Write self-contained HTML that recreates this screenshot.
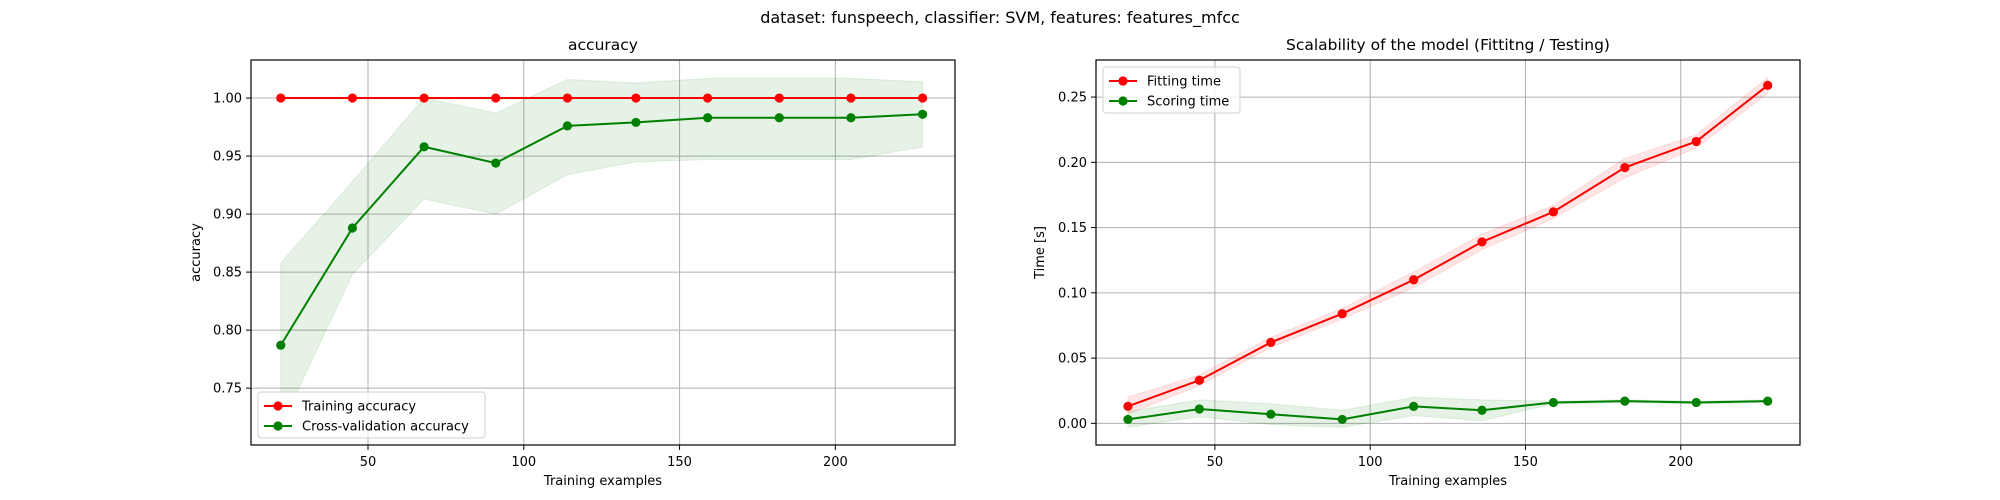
<!DOCTYPE html>
<html><head><meta charset="utf-8"><style>
body{margin:0;background:#fff}
svg{font-family:"DejaVu Sans","Liberation Sans",sans-serif;display:block}
</style></head><body>
<svg id="fig" width="2000" height="500" xmlns="http://www.w3.org/2000/svg">
<text x="1000" y="23" text-anchor="middle" font-size="16">dataset: funspeech, classifier: SVM, features: features_mfcc</text>
</svg>
<script>
const trainSizes=[22,45,68,91,114,136,159,182,205,228];
const trainAcc=[1,1,1,1,1,1,1,1,1,1];
const cvAcc=[0.787,0.888,0.958,0.944,0.976,0.979,0.983,0.983,0.983,0.986];
const cvUpper=[0.858,0.928,1.0,0.987,1.016,1.013,1.017,1.017,1.017,1.014];
const cvLower=[0.717,0.848,0.913,0.900,0.934,0.945,0.947,0.947,0.947,0.958];
const fitTime=[0.013,0.033,0.062,0.084,0.110,0.139,0.162,0.196,0.216,0.259];
const fitUpper=[0.020,0.037,0.066,0.088,0.116,0.145,0.167,0.203,0.221,0.265];
const fitLower=[0.007,0.029,0.058,0.080,0.104,0.133,0.157,0.188,0.211,0.253];
const scoreTime=[0.003,0.011,0.007,0.003,0.013,0.010,0.016,0.017,0.016,0.017];
const scoreUpper=[0.009,0.018,0.015,0.010,0.020,0.018,0.017,0.018,0.017,0.018];
const scoreLower=[-0.003,0.005,-0.001,-0.003,0.006,0.002,0.015,0.016,0.015,0.016];
const xTicks=[50,100,150,200];
const accTicks=[0.75,0.80,0.85,0.90,0.95,1.00];
const timeTicks=[0.00,0.05,0.10,0.15,0.20,0.25];

const NS="http://www.w3.org/2000/svg";
const svg=document.getElementById('fig');
function el(tag,attrs,parent,text){const e=document.createElementNS(NS,tag);for(const k in attrs)e.setAttribute(k,attrs[k]);if(text!==undefined)e.textContent=text;(parent||svg).appendChild(e);return e;}

function panel(cfg){
  const {L,R,T,B,xmin,xmax,ymin,ymax}=cfg;
  const sx=v=>L+(v-xmin)/(xmax-xmin)*(R-L);
  const sy=v=>B-(v-ymin)/(ymax-ymin)*(B-T);
  const g=el('g',{});
  
  
  xTicks.forEach(t=>{
    const l=el('line',{x1:sx(t),x2:sx(t),y1:T,y2:B,stroke:'#b0b0b0','stroke-width':1},g);
    
    el('line',{x1:sx(t),x2:sx(t),y1:B,y2:B+5,stroke:'#000'},g);
    const tx=el('text',{x:sx(t),y:B+21,'text-anchor':'middle','font-size':13},g,String(t));
    
  });
  cfg.yTicks.forEach(t=>{
    const l=el('line',{x1:L,x2:R,y1:sy(t),y2:sy(t),stroke:'#b0b0b0','stroke-width':1},g);
    
    el('line',{x1:L-5,x2:L,y1:sy(t),y2:sy(t),stroke:'#000'},g);
    const tx=el('text',{x:L-9,y:sy(t)+4.5,'text-anchor':'end','font-size':13},g,t.toFixed(2));
    
  });
  cfg.series.forEach(s=>{
    const pts=trainSizes.map((x,i)=>sx(x)+','+sy(s.up[i])).concat(trainSizes.map((x,i)=>sx(x)+','+sy(s.lo[i])).reverse());
    const b=el('polygon',{points:pts.join(' '),fill:s.c,'fill-opacity':0.1,stroke:s.c,'stroke-opacity':0.1},g);
    
  });
  cfg.series.forEach(s=>{
    const p=el('polyline',{points:trainSizes.map((x,i)=>sx(x)+','+sy(s.v[i])).join(' '),fill:'none',stroke:s.c,'stroke-width':2},g);
    
    trainSizes.forEach((x,i)=>{
      const c=el('circle',{cx:sx(x),cy:sy(s.v[i]),r:4.6,fill:s.c},g);
      
    });
  });
  el('rect',{x:L,y:T,width:R-L,height:B-T,fill:'none',stroke:'#000','stroke-width':1.2},g);
  const tt=el('text',{x:(L+R)/2,y:T-10,'text-anchor':'middle','font-size':15.5},g,cfg.title);
  
  const xl=el('text',{x:(L+R)/2,y:B+40,'text-anchor':'middle','font-size':13},g,'Training examples');
  
  const yl=el('text',{x:cfg.ylx,y:(T+B)/2,'text-anchor':'middle','font-size':13,transform:`rotate(-90 ${cfg.ylx} ${(T+B)/2})`},g,cfg.ylabel);
  
  const lg=cfg.legend;
  const lb=el('g',{},g);
  
  el('rect',{x:lg.x,y:lg.y,width:lg.w,height:lg.h,rx:3,fill:'#fff','fill-opacity':0.8,stroke:'#d0d0d0'},lb);
  cfg.series.forEach((s,i)=>{
    const yy=lg.y+14+i*20;
    const e=el('g',{},lb);
    
    el('line',{x1:lg.x+6,x2:lg.x+34,y1:yy,y2:yy,stroke:s.c,'stroke-width':2},e);
    el('circle',{cx:lg.x+20,cy:yy,r:4.6,fill:s.c},e);
    el('text',{x:lg.x+44,y:yy+4.5,'font-size':13},e,s.label);
  });
}

panel({name:'accuracy-panel',L:251,R:955,T:60,B:445,xmin:12.45,xmax:238.4,ymin:0.701,ymax:1.0328,yTicks:accTicks,
  title:'accuracy',ylabel:'accuracy',ylx:200,
  legend:{x:258,y:392,w:227,h:46},
  series:[{name:'training-accuracy',c:'#ff0000',v:trainAcc,up:trainAcc,lo:trainAcc,label:'Training accuracy'},
          {name:'cv-accuracy',c:'#008000',v:cvAcc,up:cvUpper,lo:cvLower,label:'Cross-validation accuracy'}]});
panel({name:'scalability-panel',L:1096,R:1800,T:60,B:445,xmin:11.72,xmax:238.4,ymin:-0.0166,ymax:0.2784,yTicks:timeTicks,
  title:'Scalability of the model (Fittitng / Testing)',ylabel:'Time [s]',ylx:1044,
  legend:{x:1103,y:67,w:137,h:46},
  series:[{name:'fitting-time',c:'#ff0000',v:fitTime,up:fitUpper,lo:fitLower,label:'Fitting time'},
          {name:'scoring-time',c:'#008000',v:scoreTime,up:scoreUpper,lo:scoreLower,label:'Scoring time'}]});
</script>
</body></html>
